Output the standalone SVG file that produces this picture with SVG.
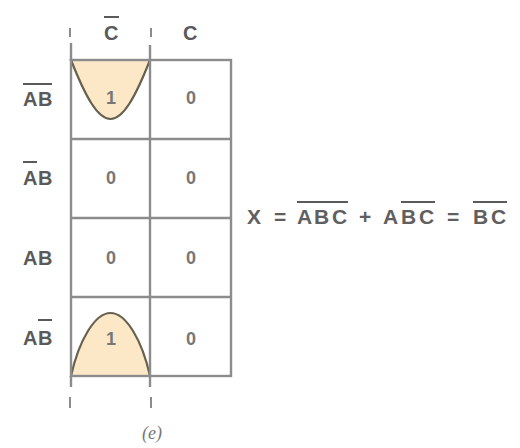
<svg xmlns="http://www.w3.org/2000/svg" width="520" height="448" viewBox="0 0 520 448">
  <style>
    .grid { stroke: #8c8c8c; stroke-width: 2.4; fill: none; }
    .loop { fill: #fce8c6; stroke: #66624f; stroke-width: 2.2; }
    .lbl { font-family: "Liberation Sans", Arial, sans-serif; font-size: 20px; font-weight: bold; fill: #5a5a5a; }
    .dig { font-family: "Liberation Sans", Arial, sans-serif; font-size: 18px; font-weight: bold; fill: #777; text-anchor: middle; }
    .eq { font-family: "Liberation Sans", Arial, sans-serif; font-size: 21px; font-weight: bold; fill: #5f5f5f; }
    .bar { stroke: #5a5a5a; stroke-width: 2; }
    .tick { stroke: #8c8c8c; stroke-width: 2; }
    .cap { font-family: "Liberation Serif", serif; font-size: 18px; font-style: italic; fill: #777; text-anchor: middle; }
  </style>
  <rect width="520" height="448" fill="#ffffff"/>

  <g id="loops">
    <path class="loop" d="M71,60 C86,98 98,119 110.5,119 C123,119 135,98 150,60 Z"/>
    <path class="loop" d="M71,376 C79,340 95,313 110.5,313 C126,313 142,340 150,376 Z"/>
  </g>

  <g id="grid">
    <rect class="grid" x="71" y="60" width="160" height="316"/>
    <line class="grid" x1="150" y1="60" x2="150" y2="376"/>
    <line class="grid" x1="71" y1="139" x2="231" y2="139"/>
    <line class="grid" x1="71" y1="218" x2="231" y2="218"/>
    <line class="grid" x1="71" y1="297" x2="231" y2="297"/>
    <line class="grid" x1="71" y1="43" x2="71" y2="60"/>
    <line class="grid" x1="150" y1="45" x2="150" y2="60"/>
    <line class="grid" x1="71" y1="376" x2="71" y2="387"/>
    <line class="grid" x1="150" y1="376" x2="150" y2="387"/>
    <line class="tick" x1="70" y1="28" x2="70" y2="37"/>
    <line class="tick" x1="151" y1="28" x2="151" y2="37"/>
    <line class="tick" x1="70" y1="397" x2="70" y2="408"/>
    <line class="tick" x1="151" y1="397" x2="151" y2="408"/>
  </g>

  <g id="col-labels">
    <text class="lbl" x="104" y="40">C</text>
    <line class="bar" x1="104" y1="17" x2="119" y2="17"/>
    <text class="lbl" x="183" y="40">C</text>
  </g>

  <g id="row-labels">
    <text class="lbl" x="23 38" y="106">AB</text>
    <line class="bar" x1="23" y1="84" x2="52" y2="84"/>
    <text class="lbl" x="23 38" y="185">AB</text>
    <line class="bar" x1="23" y1="162" x2="37" y2="162"/>
    <text class="lbl" x="23 38" y="265">AB</text>
    <text class="lbl" x="23 38" y="345">AB</text>
    <line class="bar" x1="38" y1="320" x2="52" y2="320"/>
  </g>

  <g id="cells">
    <text class="dig" x="111" y="104">1</text>
    <text class="dig" x="191" y="104">0</text>
    <text class="dig" x="111" y="184">0</text>
    <text class="dig" x="191" y="184">0</text>
    <text class="dig" x="111" y="264">0</text>
    <text class="dig" x="191" y="264">0</text>
    <text class="dig" x="111" y="345">1</text>
    <text class="dig" x="191" y="345">0</text>
  </g>

  <g id="equation">
    <text class="eq" x="247" y="224">X</text>
    <text class="eq" x="274" y="224">=</text>
    <text class="eq" x="297 314 332" y="224">ABC</text>
    <line class="bar" x1="297" y1="202" x2="348" y2="202"/>
    <text class="eq" x="359" y="224">+</text>
    <text class="eq" x="383 401 419" y="224">ABC</text>
    <line class="bar" x1="401" y1="202" x2="435" y2="202"/>
    <text class="eq" x="447" y="224">=</text>
    <text class="eq" x="473 491" y="224">BC</text>
    <line class="bar" x1="473" y1="202" x2="507" y2="202"/>
  </g>

  <g id="caption">
    <text class="cap" x="152" y="439">(e)</text>
  </g>
</svg>
